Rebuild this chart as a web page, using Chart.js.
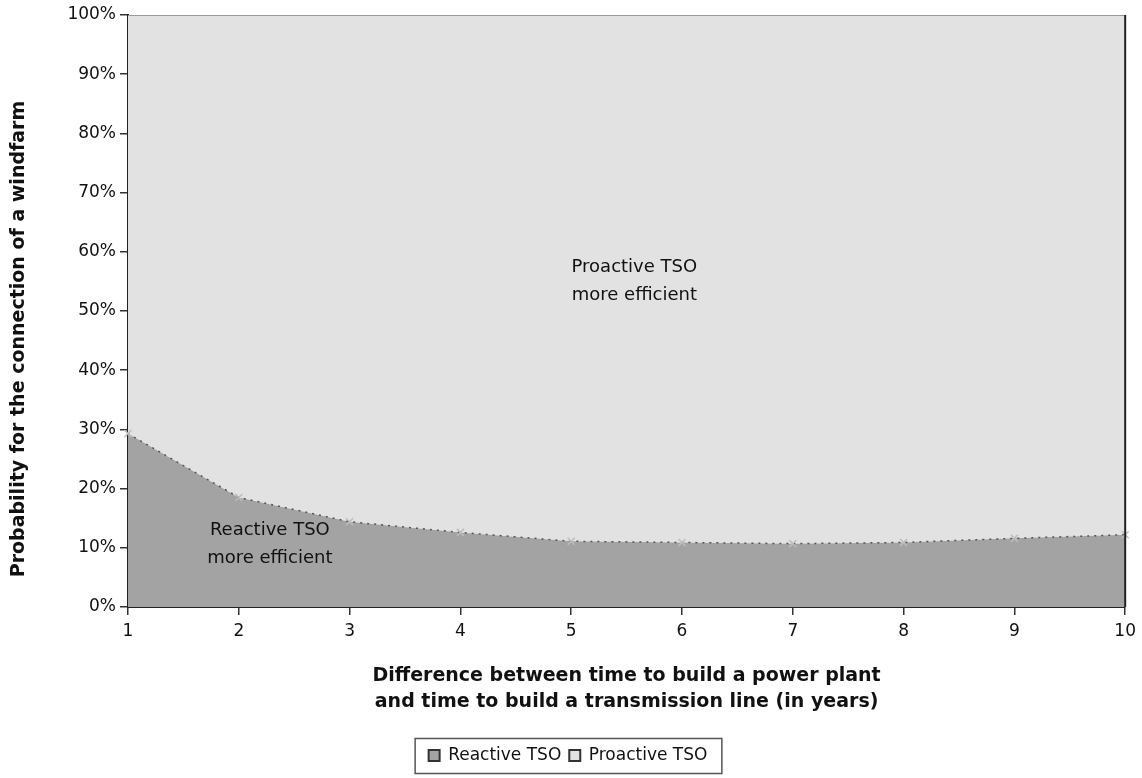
<!DOCTYPE html>
<html>
<head>
<meta charset="utf-8">
<script src="https://cdn.jsdelivr.net/npm/chart.js@4/dist/chart.umd.min.js"></script>
<style>
  body { margin: 0; background: #fff; }
  #wrap { position: relative; width: 1142px; height: 778px; }
</style>
</head>
<body>
<div id="wrap"><canvas id="chart"></canvas></div>
<script>
// years of difference between plant build time and line build time
const years = ["1", "2", "3", "4", "5", "6", "7", "8", "9", "10"];
// probability (%) threshold - below it the reactive TSO wins
const reactive = [29.3, 18.5, 14.4, 12.6, 11.1, 10.9, 10.7, 10.9, 11.6, 12.2];
// the proactive region fills the rest up to 100%
const proactive = [100, 100, 100, 100, 100, 100, 100, 100, 100, 100];

const seriesNames = ["Reactive TSO", "Proactive TSO"];
const xTitle = ["Difference between time to build a power plant", "and time to build a transmission line (in years)"];
const yTitle = "Probability for the connection of a windfarm";

// region labels: [x, y%, text]
const regionLabels = [
  [5.57, 57.3, "Proactive TSO"],
  [5.57, 52.6, "more efficient"],
  [2.28, 12.9, "Reactive TSO"],
  [2.28, 8.2, "more efficient"],
];

const font = "'DejaVu Sans', Verdana, sans-serif";

const extras = {
  id: "extras",
  afterDatasetsDraw(chart) {
    const c = chart.ctx;
    const area = chart.chartArea;
    const xs = chart.scales.x;
    const ys = chart.scales.y;
    c.save();
    // right border of the plot
    c.strokeStyle = "#222";
    c.lineWidth = 2;
    c.beginPath();
    c.moveTo(area.right, area.top);
    c.lineTo(area.right, area.bottom);
    c.stroke();
    // region texts
    c.fillStyle = "#111";
    c.font = "18px " + font;
    c.textAlign = "center";
    c.textBaseline = "middle";
    regionLabels.forEach(function (l) {
      c.fillText(l[2], xs.getPixelForValue(l[0] - 1), ys.getPixelForValue(l[1]));
    });
    c.restore();
  },
  afterDraw(chart) {
    const c = chart.ctx;
    c.save();
    // y axis title, a bit below the middle like the original
    c.fillStyle = "#111";
    c.font = "bold 19px " + font;
    c.textAlign = "center";
    c.textBaseline = "middle";
    c.translate(19, 339);
    c.rotate(-Math.PI / 2);
    c.fillText(yTitle, 0, 0);
    c.restore();

    // frame around the legend items
    const boxes = chart.legend.legendHitBoxes;
    if (!boxes || !boxes.length) return;
    const left = Math.min.apply(null, boxes.map(b => b.left)) - 14;
    const right = Math.max.apply(null, boxes.map(b => b.left + b.width)) + 14;
    const top = boxes[0].top - 9;
    const bottom = boxes[0].top + boxes[0].height + 9;
    c.save();
    c.strokeStyle = "#555";
    c.lineWidth = 1.5;
    c.strokeRect(left + 0.5, top + 0.5, right - left, bottom - top);
    c.restore();
  }
};

const ctx = document.querySelector("#chart");

new Chart(ctx, {
  type: "line",
  data: {
    labels: years,
    datasets: [
      {
        label: seriesNames[0],
        data: reactive,
        fill: "origin",
        backgroundColor: "#a3a3a3",
        borderColor: "#555",
        borderWidth: 1.5,
        borderDash: [2, 5],
        pointStyle: "crossRot",
        pointRadius: 5,
        pointBorderColor: "#bdbdbd",
        pointBorderWidth: 1.5,
        tension: 0,
      },
      {
        label: seriesNames[1],
        data: proactive,
        fill: "-1",
        backgroundColor: "#e2e2e2",
        borderColor: "#999",
        borderWidth: 2,
        pointRadius: 0,
        tension: 0,
      },
    ],
  },
  options: {
    responsive: true,
    maintainAspectRatio: false,
    animation: false,
    layout: { padding: { top: 15, right: 14, bottom: 4, left: 8 } },
    plugins: {
      tooltip: { enabled: false },
      legend: {
        position: "bottom",
        labels: {
          color: "#111",
          font: { family: font, size: 17 },
          boxWidth: 11,
          boxHeight: 11,
          padding: 8,
          generateLabels(chart) {
            return chart.data.datasets.map(function (d, i) {
              return {
                text: d.label,
                fillStyle: d.backgroundColor,
                strokeStyle: "#333",
                lineWidth: 2,
                lineDash: [],
                datasetIndex: i,
                fontColor: "#111",
              };
            });
          },
        },
      },
    },
    scales: {
      x: {
        offset: false,
        afterFit(axis) { axis.height = 132; },
        grid: { display: true, drawOnChartArea: false, drawTicks: true, tickLength: 8, color: "#333", lineWidth: 1.5 },
        border: { display: true, color: "#222", width: 2 },
        ticks: { color: "#111", font: { family: font, size: 17 }, padding: 6, maxRotation: 0 },
        title: {
          display: true,
          text: xTitle,
          color: "#111",
          font: { family: font, size: 19, weight: "bold", lineHeight: 1.35 },
          padding: { top: 0, bottom: 24 },
        },
      },
      y: {
        min: 0,
        max: 100,
        afterFit(axis) { axis.width = 120; },
        grid: { display: true, drawOnChartArea: false, drawTicks: true, tickLength: 8, color: "#333", lineWidth: 1.5 },
        border: { display: true, color: "#222", width: 2 },
        ticks: {
          stepSize: 10,
          color: "#111",
          font: { family: font, size: 17 },
          padding: 4,
          callback: function (v) { return v + "%"; },
        },
      },
    },
  },
  plugins: [extras],
});
</script>
</body>
</html>
